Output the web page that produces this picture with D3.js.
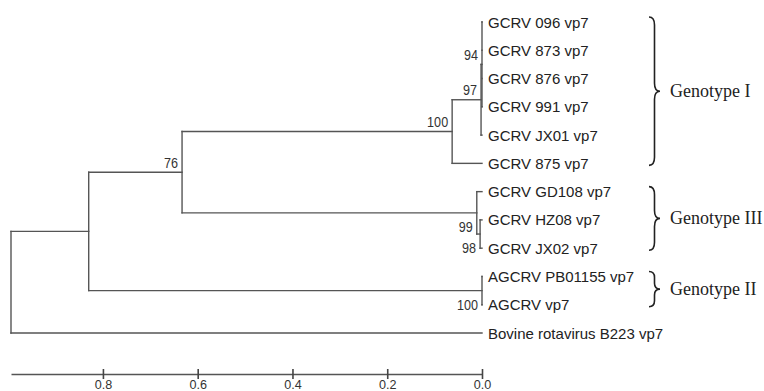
<!DOCTYPE html>
<html>
<head>
<meta charset="utf-8">
<script src="https://cdn.jsdelivr.net/npm/d3@7"></script>
<style>
  html, body { margin: 0; padding: 0; background: #fff; }
  svg { display: block; }
</style>
</head>
<body>
<svg id="chart" width="764" height="391"></svg>
<script>
// ---- DATA ----
const leaves = [
  "GCRV 096 vp7", "GCRV 873 vp7", "GCRV 876 vp7", "GCRV 991 vp7", "GCRV JX01 vp7",
  "GCRV 875 vp7", "GCRV GD108 vp7", "GCRV HZ08 vp7", "GCRV JX02 vp7",
  "AGCRV PB01155 vp7", "AGCRV vp7", "Bovine rotavirus B223 vp7"
];
const nodeNames = ["root", "A", "B", "C", "D", "E", "G", "H", "AG"];
const nodeDepths = [0.994, 0.830, 0.633, 0.063, 0.002, 0.0, 0.011, 0.004, 0.0];
const nodeChildren = [
  ["A", "Bovine rotavirus B223 vp7"],
  ["B", "AG"],
  ["C", "G"],
  ["D", "GCRV 875 vp7"],
  ["E", "GCRV JX01 vp7"],
  ["GCRV 096 vp7", "GCRV 873 vp7", "GCRV 876 vp7", "GCRV 991 vp7"],
  ["GCRV GD108 vp7", "H"],
  ["GCRV HZ08 vp7", "GCRV JX02 vp7"],
  ["AGCRV PB01155 vp7", "AGCRV vp7"]
];
const nodeSupport = [null, null, 76, 100, 97, 94, 99, 98, 100];
const supportSide = ["", "", "above", "above", "above", "above", "below", "below", "below"];
const axisTicks = [0.8, 0.6, 0.4, 0.2, 0.0];
const groupNames = ["Genotype I", "Genotype III", "Genotype II"];
const groupFirst = ["GCRV 096 vp7", "GCRV GD108 vp7", "AGCRV PB01155 vp7"];
const groupLast = ["GCRV 875 vp7", "GCRV JX02 vp7", "AGCRV vp7"];

// ---- LAYOUT ----
const svg = d3.select("#chart");
const x = d3.scaleLinear().domain([nodeDepths[0], 0]).range([11, 482]);
const y = d3.scalePoint().domain(leaves).range([22, 333]);

const nodeIndex = new Map(nodeNames.map((n, i) => [n, i]));
const isLeaf = n => !nodeIndex.has(n);
const depthOf = n => isLeaf(n) ? 0 : nodeDepths[nodeIndex.get(n)];
function yOf(n) {
  if (isLeaf(n)) return y(n);
  const ch = nodeChildren[nodeIndex.get(n)];
  return (yOf(ch[0]) + yOf(ch[ch.length - 1])) / 2;
}
function narrow(sel, f) {
  sel.each(function () {
    const w = this.getComputedTextLength();
    d3.select(this).attr("textLength", w * f).attr("lengthAdjust", "spacingAndGlyphs");
  });
}

const lineColor = "#555";
const lines = svg.append("g")
  .attr("stroke", lineColor).attr("stroke-width", 1.4).attr("fill", "none")
  .attr("stroke-linecap", "square");

nodeNames.forEach((n, i) => {
  const ch = nodeChildren[i];
  const nx = x(nodeDepths[i]);
  lines.append("line")
    .attr("x1", nx).attr("x2", nx)
    .attr("y1", yOf(ch[0])).attr("y2", yOf(ch[ch.length - 1]));
  ch.forEach(c => {
    lines.append("line")
      .attr("x1", nx).attr("x2", x(depthOf(c)))
      .attr("y1", yOf(c)).attr("y2", yOf(c));
  });
});

// leaf labels
svg.append("g").selectAll("text").data(leaves).join("text")
  .attr("x", x(0) + 6)
  .attr("y", d => y(d))
  .attr("dominant-baseline", "central")
  .attr("font-family", "'Liberation Sans', Arial, sans-serif")
  .attr("font-size", 15)
  .attr("fill", "#222")
  .text(d => d);

// support values
const sup = svg.append("g").selectAll("text")
  .data(nodeNames.map((n, i) => ({ n, i })).filter(d => nodeSupport[d.i] !== null))
  .join("text")
  .attr("x", d => x(nodeDepths[d.i]) - 4)
  .attr("y", d => yOf(d.n) + (supportSide[d.i] === "above" ? -10 : 13.5))
  .attr("dominant-baseline", "central")
  .attr("text-anchor", "end")
  .attr("font-family", "'Liberation Sans', Arial, sans-serif")
  .attr("font-size", 15)
  .attr("fill", "#333")
  .text(d => nodeSupport[d.i]);
narrow(sup, 0.84);

// axis
const axis = d3.axisBottom(x).tickValues(axisTicks).tickFormat(d3.format(".1f"))
  .tickSizeOuter(0).tickSizeInner(5).tickPadding(6);
const ag = svg.append("g").attr("transform", "translate(0,374)").call(axis);
ag.select(".domain").attr("stroke", lineColor).attr("stroke-width", 1.6);
ag.selectAll(".tick line").attr("y1", -5).attr("y2", 5).attr("stroke", "#444").attr("stroke-width", 1.6);
const tl = ag.selectAll(".tick text")
  .attr("font-family", "'Liberation Sans', Arial, sans-serif")
  .attr("font-size", 12).attr("fill", "#333")
  .attr("y", 6).attr("dy", "0.71em");
narrow(tl, 1.05);

// braces
function bracePath(bx, y0, y1, w) {
  const ym = (y0 + y1) / 2, q = w / 2, r = Math.min(8, (y1 - y0) / 6);
  return `M${bx},${y0} Q${bx + q},${y0} ${bx + q},${y0 + r} L${bx + q},${ym - r} ` +
    `Q${bx + q},${ym} ${bx + w},${ym} Q${bx + q},${ym} ${bx + q},${ym + r} ` +
    `L${bx + q},${y1 - r} Q${bx + q},${y1} ${bx},${y1}`;
}
const bg = svg.append("g");
groupNames.forEach((g, i) => {
  const y0 = y(groupFirst[i]) - 5, y1 = y(groupLast[i]) + 2;
  bg.append("path").attr("d", bracePath(649, y0, y1, 11))
    .attr("fill", "none").attr("stroke", "#222").attr("stroke-width", 1.6);
  bg.append("text").attr("x", 670).attr("y", (y0 + y1) / 2)
    .attr("dominant-baseline", "central")
    .attr("font-family", "'Liberation Serif', 'Times New Roman', serif")
    .attr("font-size", 18).attr("fill", "#222").text(g);
});
</script>
</body>
</html>
